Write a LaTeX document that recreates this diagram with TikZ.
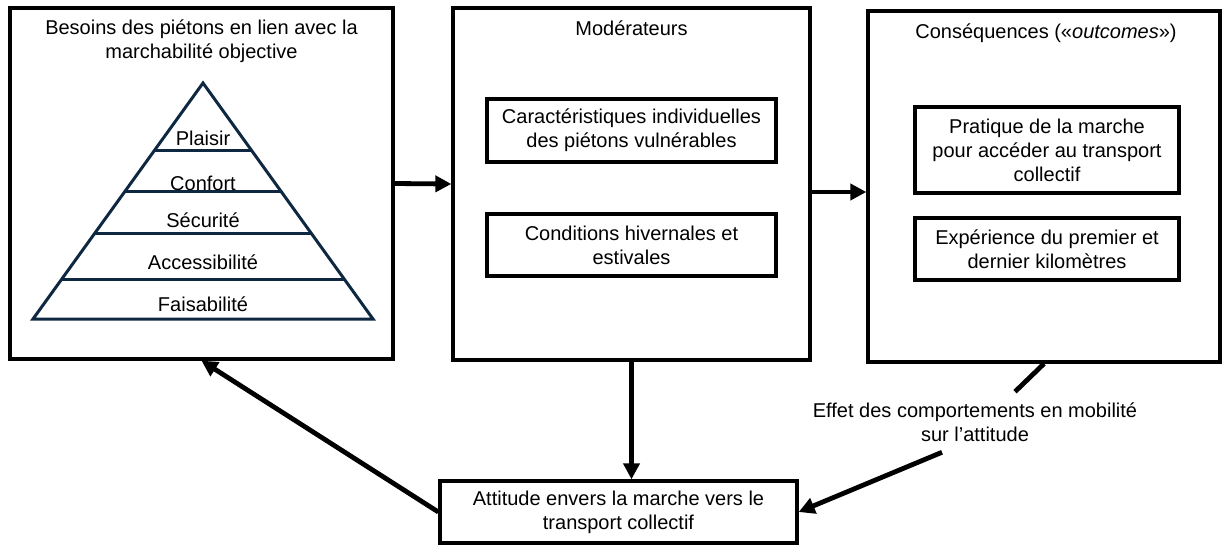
\documentclass[tikz,border=0pt]{standalone}
\usepackage{fontspec}
\setmainfont{Liberation Sans}
\usetikzlibrary{arrows.meta,fit,calc}
\definecolor{pyrcol}{HTML}{0E2841}
\begin{document}
\begin{tikzpicture}[x=0.75pt,y=-0.75pt,
  txt/.style={font=\fontsize{15}{18}\selectfont, align=center, inner sep=0pt},
  outerbox/.style={draw, line width=2.5pt, inner sep=0pt},
  innerbox/.style={draw, line width=2.5pt, align=center, font=\fontsize{15}{18}\selectfont, inner sep=0pt},
  arr/.style={line width=3.6pt, -{Triangle[length=12pt,width=12pt]}},
  plainline/.style={line width=3.6pt},
  pyr/.style={draw=pyrcol, line width=2.25pt},
  plab/.style={font=\fontsize{15}{18}\selectfont, anchor=base, inner sep=0pt}]
\useasboundingbox (0,0) rectangle (1225,544);

% outer boxes
\node[outerbox, fit={(10,8) (393,359)}] (besoins) {};
\node[outerbox, fit={(453,8) (810,360)}] (moder) {};
\node[outerbox, fit={(868,11) (1220,362)}] (cons) {};

% titles
\node[txt] (besoinsT) at (201.5,41) {Besoins des piétons en lien avec la\\marchabilité objective};
\node[txt, anchor=base] (moderT) at (631.5,35) {Modérateurs};
\node[txt, anchor=base] (consT) at (1046,38) {Conséquences («\textit{outcomes}»)};

% pyramid
\coordinate (apex) at (203,83);
\coordinate (bl) at (33,319);
\coordinate (br) at (373,319);
\draw[pyr] (apex) -- (br) -- (bl) -- cycle;
\foreach \t in {0.288,0.458,0.636,0.831}
  \draw[pyr] ($(apex)!\t!(bl)$) -- ($(apex)!\t!(br)$);
\node[plab] (plaisir) at (203,145) {Plaisir};
\node[plab] (confort) at (203,190) {Confort};
\node[plab] (securite) at (203,227) {Sécurité};
\node[plab] (access) at (203,269) {Accessibilité};
\node[plab] (faisab) at (203,311) {Faisabilité};

% inner boxes
\node[innerbox, minimum width=216.75pt, minimum height=47.25pt] (carac) at (631.5,130.5) {Caractéristiques individuelles\\des piétons vulnérables};
\node[innerbox, minimum width=216.75pt, minimum height=46.5pt] (cond) at (631.5,245) {Conditions hivernales et\\estivales};
\node[innerbox, minimum width=198pt, minimum height=64.5pt] (prat) at (1047,150) {Pratique de la marche\\pour accéder au transport\\collectif};
\node[innerbox, minimum width=198pt, minimum height=46.5pt] (exp) at (1047,249) {Expérience du premier et\\dernier kilomètres};

% bottom box
\node[innerbox, minimum width=267.75pt, minimum height=46.5pt] (att) at (618.5,512) {Attitude envers la marche vers le\\transport collectif};

% effect label
\node[txt, minimum height=45pt] (effet) at (975,422) {Effet des comportements en mobilité\\sur l’attitude};

% connectors
\draw[arr] (besoins.east) -- (moder.west);
\coordinate (m2) at ([yshift=-6pt]moder.east);
\draw[arr] (m2) -- (m2 -| cons.west);
\draw[arr] (moder.south) -- (moder.south |- att.north);
\draw[arr] (att.west) -- (besoins.south);
\draw[plainline] (cons.south) -- ([xshift=30pt]effet.north);
\draw[arr] ([xshift=-24.75pt]effet.south) -- (att.east);
\end{tikzpicture}
\end{document}
